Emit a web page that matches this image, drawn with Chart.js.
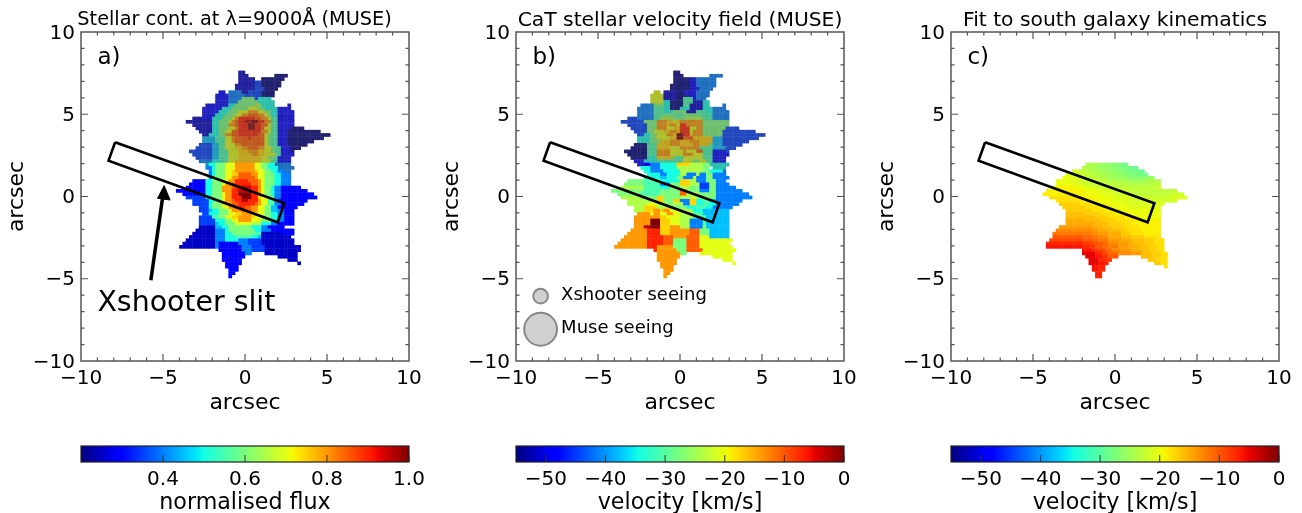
<!DOCTYPE html>
<html>
<head>
<meta charset="utf-8">
<title>Stellar kinematics</title>
<script src="https://cdn.jsdelivr.net/npm/chart.js@4"></script>
<style>
  html, body { margin: 0; background: #fff; overflow: hidden; width: 1302px; height: 513px; }
  canvas { position: absolute; filter: blur(0.4px); }
</style>
</head>
<body>
<canvas id="mapA" style="left:0;top:0" width="469" height="430"></canvas>
<canvas id="mapB" style="left:435px;top:0" width="490" height="430"></canvas>
<canvas id="mapC" style="left:870px;top:0" width="490" height="430"></canvas>
<canvas id="barA" style="left:0;top:430px" width="469" height="90"></canvas>
<canvas id="barB" style="left:435px;top:430px" width="490" height="90"></canvas>
<canvas id="barC" style="left:870px;top:430px" width="490" height="90"></canvas>
<script>
// value tables, one letter per cell in the rows below
const fluxLevels = [0.2, 0.25, 0.3, 0.35, 0.4, 0.45, 0.5, 0.55, 0.6, 0.65, 0.7, 0.75, 0.8, 0.85, 0.9, 0.95, 1.0];
const velocityLevels = [-55, -51.6, -48.1, -44.7, -41.3, -37.8, -34.4, -30.9, -27.5, -24.1, -20.6, -17.2, -13.8, -10.3, -6.9, -3.4, 0];
const modelLevels = [-30, -29, -28, -27, -26, -25, -24, -23, -22, -21, -20, -19, -18, -17, -16, -15, -14, -13, -12, -11, -10, -9, -8, -7, -6, -5];

const axisTicks = [-10, -5, 0, 5, 10];
const fluxTicks = [0.4, 0.6, 0.8, 1.0];
const velocityTicks = [-50, -40, -30, -20, -10, 0];

// rows are run-length coded: 3b = three cells of level b, 3. = three empty cells
const fluxNorth = [
  '20.2b', '20.3b8.4a', '20.5b2.7a', '20.5b2d6a', '19.6b2d6a', '19.6b3d4a', '14.2c1.4e2b4d4a', '13.4c5e5d4a',
  '13.4c4e4i1d4g', '13.4c3e6i5g', '10.7c2g6i2j4g4.1c', '9.6c3g5i3k2i4g4c', '9.5c3g3i3k3m2k2i2g5c',
  '9.4c3g3i2k2m3n2m1k1i2g5c', '6.3b3c3g3i1k1m5o2n2m1k2h5c', '4.8b2g3i1k1m1n2o2p2q2o2m2h5c',
  '6.6b2g3i2m1n3o2q2o2n1k2h5c', '7.5b2g3i2k1m3o2q2o1n2k2h4c4a', '8.4b2g2i2k2n7o2m1k2h3c10a',
  '9.2b3g2i2m2n6o2n1k1i2h3c13a', '9.4f3h2k1m2n2n1o2n2n1k1i2h3c11a', '9.4f3h2k1m3n3n3n1k1i2h3c8a',
  '8.4d2f2h3k2m2n2n3n1k1i2h3c6a', '7.5d2f2h3k2l2m3n2m2k1i2h3c3a', '5.7d2f3h3k3l3m2l2k1i2h3c1a',
  '6.6d2f3h3k4l2m2l3k1i1h4c', '7.5d2f3h3k7l2k2i1h4c', '8.4e3g2h2k8l3k2h4c',
  '10.2f19.5e', '32.5e', '32.4e', '34.2e', '35.1e'
];
const fluxSouth = [
  '11.2g3i3k6m2k2i2g', '10.2e1g3i3k6m2k2i3g', '11.1e1g3i2k1l6m1l2k2i2g2e', '11.1e1g3i2k2l4n2m2k3i2g3e',
  '11.1e1g3i2k2m5n1m2k3i2g3e', '6.4c2g3i2k2m4o3n1m1k3i2g3e', '5.5c2g3i1k2m1n5o2n1m1k3i2g3e',
  '4.6c2g3i3m1n2o3p2o1m1k2i1g2e6c', '1.9c2g3i3m2o4p2o1m1k2i1g2e8c', '3.7c2g3i1k2m2o4q2o1m1k2i1g2e10c',
  '4.6d2g3i1k2m3o3q2o1l2k2i2e11c', '6.5d2g2i1k2m1n2o2p3o1m2k2h1e9c', '6.5d1g3i1k1l1m2n5o1n1m2k2h2e7c',
  '8.3d1g3i2k2m1n2o2n2m2k2i2f6c', '8.3d1f2g3i1k3m3n2m2k2i2f2e3c', '9.2d3g3i2k2l3m2l2k2i2g2e3c',
  '8.4d2h2i2k2l4m1l2k3i2g2e3c', '8.5d3g2i2k4m3k3i2g2e3c', '8.5d1f2g3i5k3j3g2e5c', '8.5b2f2g7i3g2e5c',
  '7.6b3e1g8i2g3e7c', '6.7b3e2g7i2h6b4c', '5.8b3e3g5h2g1f9b', '4.9b3e4g3e4d10b', '3.10b1e6c3e4d10b',
  '2.11b1e7c3e4d11b', '14.7c3e4d11b', '15.7c2e4.10b', '15.7c10.6b', '15.6c14.3b', '16.5c17.1b',
  '16.4c', '17.3c', '17.2c', '17.1c'
];
const velocityNorth = [
  '20.2a', '20.3a8.4e', '20.5a2c6e', '20.5a2c6e', '19.6a2c6e', '19.6a3c4e', '14.2k1.4b2a4c4e', '13.4k4b3a3c4e',
  '13.4k4b2a3h1c3e', '13.4k2g4a3h3b2g', '10.4e3i2g4a2h4b2g4.1e', '9.5e3h2g3a3g4b3g4e', '9.5e3h3g4i3b3h2g5e',
  '9.5e3h3i3h5i3h1g5e', '6.3d5e2h4j4i5j3h5e', '4.7d4i3m2l1k1l7m8i', '6.6d3i3m1l2m1k2o5m8i',
  '7.5d3i3m2k2l3o2k2m7i4d', '8.4d2i3k2l2m1l3o1k3m6i10d', '9.2d2g2i3k2m1l2q2o1l3m6i13d',
  '9.4g2i4k2l2q3n3l3l3f11d', '9.4g3i3l3m3l3m4l3f8d', '8.4a3h4l3m4l2m3l1h3f6d', '7.5a3h4l3k3m3m4h4f3d',
  '5.7a3h4m4k1m3k2n3h4c1d', '6.6a3h4m4k3m3k3h5c', '7.5a3g5l3h6k3h4c', '8.3c4g8h3k2i2k2h4c',
  '9.2c20.6g', '32.4g', '32.4e', '34.2e'
];
const velocitySouth = [
  '11.2c3e5g4l4j2i', '10.3g3e5g4j4j2i', '11.2g4e5g7j2i4g', '12.4g2e4g2j3e1j2e2i4e', '11.5g2f3g2i3e1j3e2i5e',
  '6.5i5h3g3g3l2j3e3i3e', '5.6i5h3e3i3l3j3d2i4e', '4.7j5h3g3i3j3i3d2i6e', '1.10i5h6i2n4i3e2i8e',
  '3.7i6h6i2n4j5i10e', '4.6j5i2l5i6j5i11e', '6.6j3i2l3i2l3e2l2g2h2f8e', '6.6j3k3j2i3j2e2l2g2h2g7e',
  '8.3j4l3j2k4i3g3h2g6e', '8.3j3l2m1l2m3k4j3g4f4f', '9.4m1k2m2k2m2k4j3h8f', '8.6m2m2l4k4j4h7f',
  '8.5m3q3l3k3j4e1h7f', '8.5m3q3l3k3j4e1h7f', '8.3m2p3q3l3m3j4e1i7f', '7.5m4o3l3m3m3n3i6f', '6.6m4o3l3m3m3n3i6f',
  '5.7m5o3n4m4n3k6f', '4.8m5o3n4i4n10k', '3.9m5o3n4i4n9k', '2.10m3o5m4i4n10k', '14.1o6m3i5n10k',
  '15.7m2i4.10k', '15.7m10.6k', '15.6m14.3k', '16.5m17.1k', '16.4m', '17.3m', '17.2m', '17.1m'
];
const modelRows = [
  '13.3g3f3e2d2c', '12.3g3f3e3d3c2b', '9.2i3h3g3f3e3d3c2b', '7.3j3i3h3g3f3e3d3c1c', '6.2k3j3i3h3g3f3e3d2d3e',
  '4.4k3j3i3h3h3g3g3f3f4g', '4.5k3j3i3h3h3h3g3g3g3h', '3.7l3k3j3i3i3h3h3h3h2i', '1.12l4k4j5i15h', '13l5k4j6i11h4i',
  '2.9m5l5k5j13i5j', '4.8m5l5k5j14i', '5.6n5m4l5k5j7j', '6.7n4m4l5k10j', '7.8n4m5l12k', '7.6o5n4m5l9k',
  '7.9o4n5m5l6k', '7.6p5o4n6m8l', '7.9p4o4n3m9l', '5.10q3p3o4n4m7l', '4.11r2q3p4o2n4m6l', '3.12s2r3q4p3n4m5l',
  '3.9u3t2s3r4p3o4n5m', '2.10v3u2t3s4q3p4o3n3m', '1.11x2w2v2u2t3r3q2p3o3n3m', '1.11y2x2w2u2t3s3q3p3o3n2m',
  '12.3y2w2v2t3r3q3p2o3n2m', '12.4z2x2v3t4r3q3o3n2m', '13.3z2y2w3u7.3o3n2m', '14.3z2x2w11.3n3m', '14.3z2y1x14.2n2m',
  '15.2y2x18.1m', '15.2y2x', '16.2x', '16.2x'
];

// slit corners, arrow and seeing discs in arcsec
const slitX = [-7.92, -8.32, 1.99, 2.4, -7.92];
const slitY = [3.3, 2.18, -1.57, -0.41, 3.3];
const arrowX = [-5.74, -5.0];
const arrowY = [-5.09, 0.1];
const arrowHeadX = [-4.93, -5.33, -4.57, -4.93];
const arrowHeadY = [0.66, -0.11, -0.21, 0.66];
const seeingX = [-8.5, -8.5];
const seeingY = [-6.06, -8.07];
const seeingRadius = [0.45, 1.0];

const FONT = '"DejaVu Sans"';
const CELL = 0.2;
const GRID_X0 = -4.3;
const GRID_Y0 = 7.54;
const SOUTH_FIRST_ROW = 28;

function minus(s) { return String(s).replace('-', '\u2212'); }

function interp(stops, t) {
  for (let i = 1; i < stops.length; i++) {
    if (t <= stops[i][0]) {
      const a = stops[i - 1], b = stops[i];
      return a[1] + (b[1] - a[1]) * (t - a[0]) / (b[0] - a[0]);
    }
  }
  return stops[stops.length - 1][1];
}
const jetR = [[0, 0], [0.35, 0], [0.66, 1], [0.89, 1], [1, 0.5]];
const jetG = [[0, 0], [0.125, 0], [0.375, 1], [0.64, 1], [0.91, 0], [1, 0]];
const jetB = [[0, 0.5], [0.11, 1], [0.34, 1], [0.65, 0], [1, 0]];

function jet(t, muted) {
  let c = [jetR, jetG, jetB].map(s => interp(s, Math.max(0, Math.min(1, t))) * 255);
  if (muted) c = c.map(v => v * 0.62 + 33);   // north galaxy was plotted with alpha
  return `rgb(${c[0] | 0},${c[1] | 0},${c[2] | 0})`;
}

function expandRows(rows, firstRow, levels) {
  const cells = [];
  rows.forEach((row, r) => {
    let col = 0;
    for (const m of row.matchAll(/(\d+)(.)/g)) {
      const n = parseInt(m[1], 10);
      if (m[2] !== '.') {
        const v = levels[m[2].charCodeAt(0) - 97];
        for (let k = 0; k < n; k++) {
          cells.push({ x: GRID_X0 + CELL * (col + k), y: GRID_Y0 - CELL * (firstRow + r), v: v });
        }
      }
      col += n;
    }
  });
  return cells;
}

function zip(xs, ys) { return xs.map((x, i) => ({ x: x, y: ys[i] })); }

function cellDataset(cells, vmin, vmax, muted) {
  return {
    data: cells,
    pointStyle: 'rect',
    borderWidth: 0,
    showLine: false,
    pointBorderWidth: 0,
    pointRadius: ctx => ctx.chart.scales.x.width / 20 * CELL * 0.8,
    pointBackgroundColor: ctx => jet((ctx.raw.v - vmin) / (vmax - vmin), muted)
  };
}

function slitDataset() {
  return { data: zip(slitX, slitY), showLine: true, borderColor: '#000', borderWidth: 2.6, pointRadius: 0, borderJoinStyle: 'miter', tension: 0 };
}

const mapFrame = {
  id: 'mapFrame',
  afterDraw(chart) {
    const { ctx, chartArea: a, scales: { x, y } } = chart;
    ctx.save();
    ctx.strokeStyle = '#555';
    ctx.lineWidth = 1.5;
    ctx.strokeRect(a.left, a.top, a.right - a.left, a.bottom - a.top);
    ctx.lineWidth = 1.2;
    ctx.beginPath();
    for (let v = -9; v < 10; v++) {
      const len = v % 5 === 0 ? 7 : 3.5;
      const px = x.getPixelForValue(v), py = y.getPixelForValue(v);
      ctx.moveTo(px, a.bottom); ctx.lineTo(px, a.bottom - len);
      ctx.moveTo(px, a.top); ctx.lineTo(px, a.top + len);
      ctx.moveTo(a.left, py); ctx.lineTo(a.left + len, py);
      ctx.moveTo(a.right, py); ctx.lineTo(a.right - len, py);
    }
    ctx.stroke();
    ctx.fillStyle = '#000';
    ctx.textBaseline = 'middle';
    (chart.options.plugins.mapFrame.labels || []).forEach(l => {
      ctx.font = l.size + 'px ' + FONT;
      ctx.textAlign = l.center ? 'center' : 'left';
      ctx.fillText(l.text, x.getPixelForValue(l.x), y.getPixelForValue(l.y));
    });
    ctx.restore();
  }
};

const barFill = {
  id: 'barFill',
  beforeDatasetsDraw(chart) {
    const { ctx, chartArea: a } = chart;
    const g = ctx.createLinearGradient(a.left, 0, a.right, 0);
    for (let i = 0; i <= 64; i++) g.addColorStop(i / 64, jet(i / 64));
    ctx.fillStyle = g;
    ctx.fillRect(a.left, a.top, a.right - a.left, a.bottom - a.top);
  },
  afterDraw(chart) {
    const { ctx, chartArea: a, scales: { x } } = chart;
    ctx.save();
    ctx.strokeStyle = '#333';
    ctx.lineWidth = 1;
    ctx.beginPath();
    x.ticks.forEach(t => {
      const px = x.getPixelForValue(t.value);
      ctx.moveTo(px, a.bottom); ctx.lineTo(px, a.bottom - 7);
    });
    ctx.stroke();
    ctx.strokeStyle = '#222';
    ctx.lineWidth = 1.2;
    ctx.strokeRect(a.left, a.top, a.right - a.left, a.bottom - a.top);
    ctx.restore();
  }
};

function makeMap(id, rightPad, datasets, labels) {
  new Chart(document.getElementById(id), {
    type: 'scatter',
    data: { datasets: datasets },
    plugins: [mapFrame],
    options: {
      responsive: false,
      animation: false,
      events: [],
      layout: { padding: { left: 0, right: rightPad, top: 32, bottom: 0 } },
      plugins: {
        legend: { display: false },
        tooltip: { enabled: false },
        mapFrame: { labels: labels }
      },
      scales: {
        x: {
          type: 'linear', min: -10, max: 10,
          afterBuildTicks: s => { s.ticks = axisTicks.map(v => ({ value: v })); },
          afterFit: s => { s.height = 69; },
          grid: { display: false, drawTicks: false },
          border: { display: false },
          ticks: { color: '#000', padding: 6, maxRotation: 0, font: { family: FONT, size: 20 }, callback: v => minus(v) },
          title: { display: true, text: 'arcsec', color: '#000', font: { family: FONT, size: 22, lineHeight: 1.2 }, padding: { top: 0, bottom: 14 } }
        },
        y: {
          type: 'linear', min: -10, max: 10,
          afterBuildTicks: s => { s.ticks = axisTicks.map(v => ({ value: v })); },
          afterFit: s => { s.width = 81; },
          grid: { display: false, drawTicks: false },
          border: { display: false },
          ticks: { color: '#000', padding: 6, labelOffset: 1.5, font: { family: FONT, size: 20 }, callback: v => minus(v) },
          title: { display: true, text: 'arcsec', color: '#000', font: { family: FONT, size: 22, lineHeight: 1.2 }, padding: { top: 4, bottom: 0 } }
        }
      }
    }
  });
}

function makeBar(id, label, rightPad, vmin, vmax, tickValues, fmt) {
  new Chart(document.getElementById(id), {
    type: 'scatter',
    data: { datasets: [{ data: [] }] },
    plugins: [barFill],
    options: {
      responsive: false,
      animation: false,
      events: [],
      layout: { padding: { left: 81, right: rightPad, top: 16, bottom: 0 } },
      plugins: { legend: { display: false }, tooltip: { enabled: false } },
      scales: {
        x: {
          type: 'linear', min: vmin, max: vmax,
          afterBuildTicks: s => { s.ticks = tickValues.map(v => ({ value: v })); },
          afterFit: s => { s.height = 58; },
          grid: { display: false, drawTicks: false },
          border: { display: false },
          ticks: { color: '#000', padding: 6, maxRotation: 0, font: { family: FONT, size: 20 }, callback: fmt },
          title: { display: true, text: label, color: '#000', font: { family: FONT, size: 22.2, lineHeight: 1.2 }, padding: { top: 0, bottom: 3 } }
        },
        y: { display: false, min: 0, max: 1 }
      }
    }
  });
}

const seeingDiscs = {
  data: zip(seeingX, seeingY),
  pointRadius: ctx => seeingRadius[ctx.dataIndex] * ctx.chart.scales.x.width / 20,
  pointBackgroundColor: '#d0d0d0',
  pointBorderColor: '#888',
  pointBorderWidth: 2
};

makeMap('mapA', 60, [
  slitDataset(),
  { data: zip(arrowHeadX, arrowHeadY), showLine: true, fill: 'shape', backgroundColor: '#000', borderColor: '#000', borderWidth: 1, pointRadius: 0 },
  { data: zip(arrowX, arrowY), showLine: true, borderColor: '#000', borderWidth: 3.5, pointRadius: 0 },
  cellDataset(expandRows(fluxSouth, SOUTH_FIRST_ROW, fluxLevels), 0.2, 1, false),
  cellDataset(expandRows(fluxNorth, 0, fluxLevels), 0.2, 1, true)
], [
  { text: 'Stellar cont. at \u03bb=9000\u00c5 (MUSE)', x: -0.64, y: 10.7, size: 19.3, center: true },
  { text: 'a)', x: -9, y: 8.4, size: 23 },
  { text: 'Xshooter slit', x: -9, y: -6.5, size: 28.4 }
]);

makeMap('mapB', 81, [
  slitDataset(),
  seeingDiscs,
  cellDataset(expandRows(velocitySouth, SOUTH_FIRST_ROW, velocityLevels), -55, 0, false),
  cellDataset(expandRows(velocityNorth, 0, velocityLevels), -55, 0, true)
], [
  { text: 'CaT stellar velocity field (MUSE)', x: 0, y: 10.7, size: 20.3, center: true },
  { text: 'b)', x: -9, y: 8.4, size: 23 },
  { text: 'Xshooter seeing', x: -7.25, y: -6.03, size: 18 },
  { text: 'Muse seeing', x: -7.25, y: -8.0, size: 18 }
]);

makeMap('mapC', 81, [
  slitDataset(),
  cellDataset(expandRows(modelRows, SOUTH_FIRST_ROW, modelLevels), -55, 0, false)
], [
  { text: 'Fit to south galaxy kinematics', x: 0, y: 10.7, size: 20.3, center: true },
  { text: 'c)', x: -9, y: 8.4, size: 23 }
]);

makeBar('barA', 'normalised flux', 60, 0.2, 1, fluxTicks, v => v.toFixed(1));
makeBar('barB', 'velocity [km/s]', 81, -55, 0, velocityTicks, v => minus(v));
makeBar('barC', 'velocity [km/s]', 81, -55, 0, velocityTicks, v => minus(v));
</script>
</body>
</html>
